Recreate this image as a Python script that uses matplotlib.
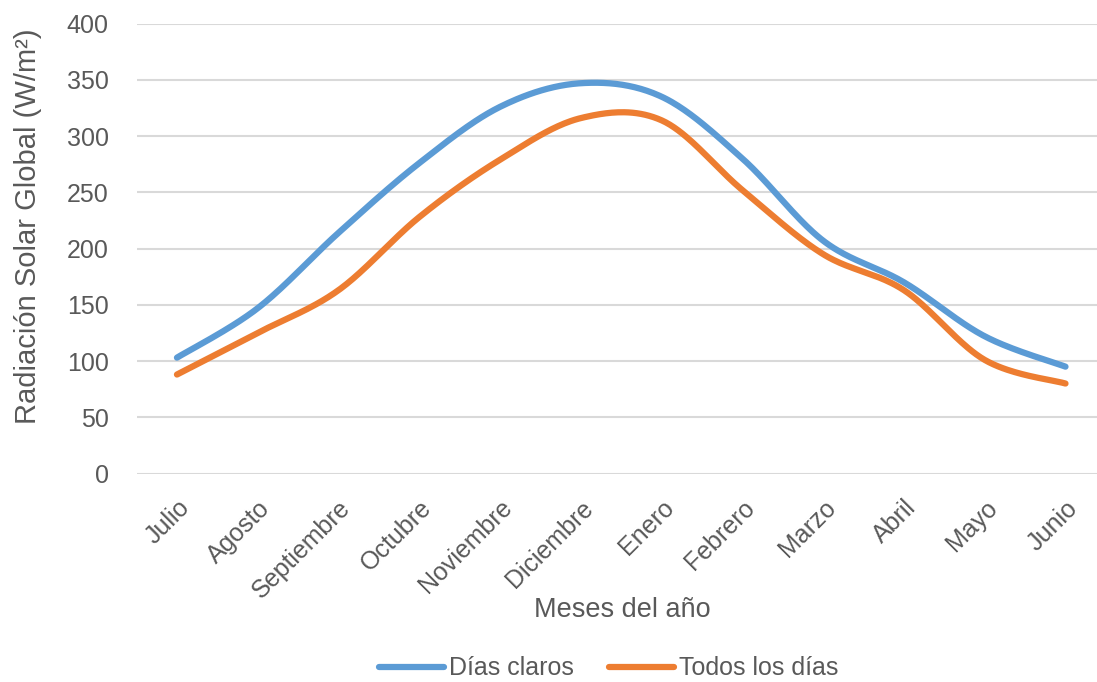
import numpy as np
import matplotlib
matplotlib.use("Agg")
import matplotlib.pyplot as plt

meses = ["Julio", "Agosto", "Septiembre", "Octubre", "Noviembre", "Diciembre",
         "Enero", "Febrero", "Marzo", "Abril", "Mayo", "Junio"]
dias_claros = [103, 147, 214, 276, 326, 347, 335, 280, 207, 170, 122, 95]
todos_dias = [88, 125, 163, 228, 279, 316, 314, 252, 195, 163, 101, 80]

AZUL = "#5B9BD5"
NARANJA = "#ED7D31"
GRIS = "#595959"


def smooth(y, n=40):
    """Bezier smoothing through every point (tension 1/6), like office charts."""
    y = np.asarray(y, dtype=float)
    x = np.arange(len(y), dtype=float)
    xs, ys = [], []
    t = np.linspace(0, 1, n)
    for i in range(len(y) - 1):
        i0 = max(i - 1, 0)
        i3 = min(i + 2, len(y) - 1)
        p0 = np.array([x[i], y[i]])
        p3 = np.array([x[i + 1], y[i + 1]])
        c1 = p0 + (p3 - np.array([x[i0], y[i0]])) / 6.0
        c2 = p3 - (np.array([x[i3], y[i3]]) - p0) / 6.0
        b = ((1 - t) ** 3)[:, None] * p0 + (3 * (1 - t) ** 2 * t)[:, None] * c1 \
            + (3 * (1 - t) * t ** 2)[:, None] * c2 + (t ** 3)[:, None] * p3
        xs.append(b[:, 0]); ys.append(b[:, 1])
    return np.concatenate(xs), np.concatenate(ys)


plt.rcParams.update({
    "font.family": ["Liberation Sans", "DejaVu Sans"],
    "text.color": GRIS,
    "axes.labelcolor": GRIS,
    "xtick.color": GRIS,
    "ytick.color": GRIS,
})

fig = plt.figure(figsize=(10.97, 6.82), dpi=100)
ax = fig.add_axes([0.1245, 0.3057, 1.0 - 0.1245, 0.6597])

for vals, color, label in [(dias_claros, AZUL, "Días claros"),
                           (todos_dias, NARANJA, "Todos los días")]:
    sx, sy = smooth(vals)
    ax.plot(sx, sy, color=color, lw=4.5, solid_capstyle="round", label=label, zorder=3)

ax.set_ylim(0, 400)
ax.set_yticks(range(0, 401, 50))
ax.set_xlim(-0.5, 11.39)
ax.set_xticks(range(len(meses)))
ax.set_xticklabels(meses, rotation=45, ha="right", rotation_mode="anchor")
ax.tick_params(axis="both", length=0, labelsize=18)
ax.tick_params(axis="y", pad=20)
ax.tick_params(axis="x", pad=16)

ax.grid(axis="y", color="#D9D9D9", lw=1.5, zorder=0)
for s in ax.spines.values():
    s.set_visible(False)

ax.set_xlabel("Meses del año", fontsize=19.5)
ax.xaxis.set_label_coords(0.506, -0.2745)
ax.set_ylabel("Radiación Solar Global (W/m²)", fontsize=21)
ax.yaxis.set_label_coords(-0.0985, 0.549)

fig.legend(loc="center", bbox_to_anchor=(0.555, 0.02), ncol=2, frameon=False,
           fontsize=18, handlelength=2.6, columnspacing=1.4, handletextpad=0.2)

fig.savefig("out.png")
